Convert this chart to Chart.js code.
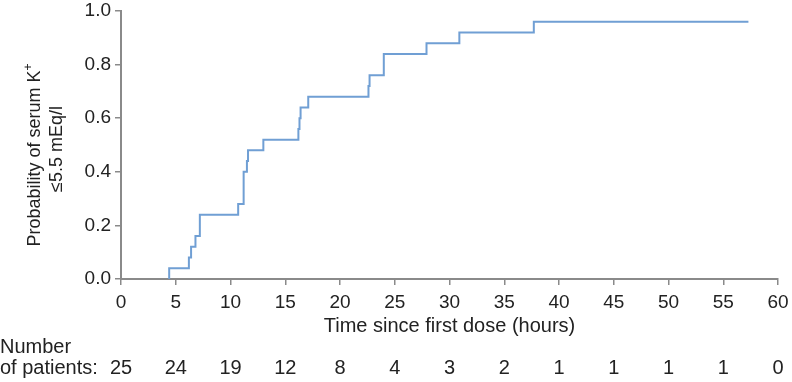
<!DOCTYPE html>
<html>
<head>
<meta charset="utf-8">
<script src="https://cdn.jsdelivr.net/npm/chart.js@4.4.1/dist/chart.umd.min.js"></script>
<style>
  html, body { margin: 0; padding: 0; background: #fff; }
  #wrap { width: 792px; height: 382px; }
</style>
</head>
<body>
<div id="wrap"><canvas id="km_chart" width="792" height="382"></canvas></div>
<script>
// Kaplan-Meier: time (hours) and probability of serum K+ <= 5.5 mEq/l
var eventTimes = [4.4, 4.4, 6.2, 6.4, 6.8, 7.2, 10.7, 11.2, 11.5, 11.6, 13.0, 16.2, 16.3, 16.4, 17.1, 22.6, 22.7, 24.0, 27.9, 30.9, 37.7, 57.3];
var probability = [0, 0.04, 0.08, 0.12, 0.16, 0.24, 0.28, 0.40, 0.44, 0.48, 0.52, 0.56, 0.60, 0.64, 0.68, 0.72, 0.76, 0.84, 0.88, 0.92, 0.96, 0.96];

// number at risk table under the x axis
var riskTimes = [0, 5, 10, 15, 20, 25, 30, 35, 40, 45, 50, 55, 60];
var atRisk = [25, 24, 19, 12, 8, 4, 3, 2, 1, 1, 1, 1, 0];

var fontFam = "'Liberation Sans', Arial, sans-serif";
var textColor = '#222';
var axisColor = '#8a8a8a';

// draws the axis titles and the number-at-risk rows
var extraText = {
    id: 'extraText',
    afterDraw: function (chart) {
        var ctx = chart.ctx;
        var xs = chart.scales.x;
        var area = chart.chartArea;
        ctx.save();
        ctx.fillStyle = textColor;

        // x title
        ctx.font = '20px ' + fontFam;
        ctx.textAlign = 'center';
        ctx.textBaseline = 'middle';
        ctx.fillText('Time since first dose (hours)', (area.left + area.right) / 2, 326);

        // number at risk
        ctx.textAlign = 'left';
        ctx.fillText('Number', 0, 347);
        ctx.fillText('of patients:', 0, 368);
        ctx.textAlign = 'center';
        for (var i = 0; i < riskTimes.length; i++) {
            ctx.fillText(String(atRisk[i]), xs.getPixelForValue(riskTimes[i]), 368);
        }

        // y title, two rotated lines
        ctx.save();
        ctx.translate(35, 155);
        ctx.rotate(-Math.PI / 2);
        var main = 'Probability of serum K';
        ctx.font = '18px ' + fontFam;
        var w1 = ctx.measureText(main).width;
        ctx.font = '12px ' + fontFam;
        var w2 = ctx.measureText('+').width;
        var start = -(w1 + w2) / 2;
        ctx.textAlign = 'left';
        ctx.font = '18px ' + fontFam;
        ctx.fillText(main, start, 0);
        ctx.font = '12px ' + fontFam;
        ctx.fillText('+', start + w1, -6);
        ctx.restore();

        ctx.save();
        ctx.translate(57, 149);
        ctx.rotate(-Math.PI / 2);
        ctx.font = '18px ' + fontFam;
        ctx.textAlign = 'center';
        ctx.textBaseline = 'middle';
        ctx.fillText('\u22645.5 mEq/l', 0, 0);
        ctx.restore();

        ctx.restore();
    }
};

var points = eventTimes.map(function (t, i) { return { x: t, y: probability[i] }; });

var ctx = document.getElementById('km_chart').getContext('2d');
var kmChart = new Chart(ctx, {
    type: 'line',
    data: {
        datasets: [{
            data: points,
            stepped: true,
            borderColor: '#709fd4',
            borderWidth: 2,
            pointRadius: 0,
            fill: false
        }]
    },
    options: {
        responsive: false,
        animation: false,
        layout: { padding: { top: 11, right: 14, left: 0, bottom: 0 } },
        plugins: {
            legend: { display: false },
            tooltip: { enabled: false }
        },
        scales: {
            x: {
                type: 'linear',
                min: 0,
                max: 60,
                ticks: {
                    stepSize: 5,
                    color: textColor,
                    padding: 6,
                    maxRotation: 0,
                    font: { family: fontFam, size: 19 }
                },
                grid: { drawOnChartArea: false, drawTicks: true, tickLength: 6, color: axisColor, lineWidth: 1.5 },
                border: { display: true, color: axisColor, width: 2 },
                afterFit: function (scale) {
                    scale.height = 103;
                    scale.paddingLeft = 0;
                    scale.paddingRight = 0;
                }
            },
            y: {
                min: 0,
                max: 1,
                ticks: {
                    stepSize: 0.2,
                    color: textColor,
                    padding: 4,
                    font: { family: fontFam, size: 19 },
                    callback: function (v) { return v.toFixed(1); }
                },
                grid: { drawOnChartArea: false, drawTicks: true, tickLength: 6, color: axisColor, lineWidth: 1.5 },
                border: { display: true, color: axisColor, width: 2 },
                afterFit: function (scale) {
                    scale.width = 121;
                    scale.paddingTop = 0;
                    scale.paddingBottom = 0;
                }
            }
        }
    },
    plugins: [extraText]
});
</script>
</body>
</html>
